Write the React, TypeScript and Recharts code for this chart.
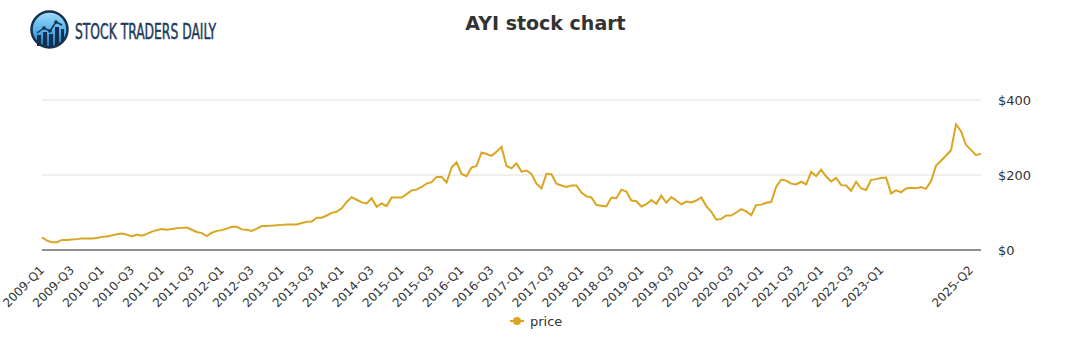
import React from "react";
import { LineChart, Line, XAxis, YAxis, CartesianGrid } from "recharts";

const prices: number[] = [
  34, 25, 21, 21, 27, 27, 28, 29, 31, 31,
  31, 32, 35, 36, 39, 42, 44, 41, 36, 41,
  38, 43, 49, 53, 56, 54, 56, 58, 59, 60,
  54, 48, 45, 37, 46, 51, 53, 57, 62, 62,
  55, 54, 51, 57, 64, 64, 65, 66, 67, 68,
  68, 68, 72, 75, 76, 86, 86, 92, 99, 102,
  111, 128, 141, 134, 127, 124, 138, 115, 124, 117,
  140, 140, 140, 149, 159, 161, 168, 177, 181, 195,
  195, 180, 220, 234, 203, 197, 220, 224, 260, 256,
  251, 262, 275, 224, 218, 231, 209, 212, 203, 177,
  164, 203, 202, 177, 172, 168, 172, 172, 153, 143,
  140, 120, 118, 116, 140, 138, 161, 156, 132, 130,
  116, 122, 133, 123, 145, 126, 141, 132, 122, 129,
  127, 132, 140, 117, 102, 81, 83, 92, 92, 100,
  109, 103, 93, 120, 121, 126, 128, 169, 188, 185,
  177, 175, 182, 175, 208, 197, 214, 196, 183, 192,
  173, 172, 158, 182, 164, 160, 187, 189, 192, 193,
  151, 159, 154, 164, 166, 165, 168, 163, 184, 225,
  238, 252, 266, 335, 317, 280, 267, 253, 257,
];

const tickLabels: string[] = [
  "2009-Q1", "2009-Q3", "2010-Q1", "2010-Q3", "2011-Q1", "2011-Q3",
  "2012-Q1", "2012-Q3", "2013-Q1", "2013-Q3", "2014-Q1", "2014-Q3",
  "2015-Q1", "2015-Q3", "2016-Q1", "2016-Q3", "2017-Q1", "2017-Q3",
  "2018-Q1", "2018-Q3", "2019-Q1", "2019-Q3", "2020-Q1", "2020-Q3",
  "2021-Q1", "2021-Q3", "2022-Q1", "2022-Q3", "2023-Q1", "2025-Q2",
];

const tickIndices: number[] = [
  0, 6, 12, 18, 24, 30, 36, 42, 48, 54, 60, 66, 72, 78, 84, 90, 96, 102,
  108, 114, 120, 126, 132, 138, 144, 150, 156, 162, 168, 186,
];

const yTicks: number[] = [0, 200, 400];

const LINE_COLOR = "#DAA520";
const FONT = "'DejaVu Sans', sans-serif";

const data = prices.map((price, i) => ({ i, price }));

const XTick = (props: any) => {
  const { x, y, payload } = props;
  const k = tickIndices.indexOf(payload.value);
  const label = k >= 0 ? tickLabels[k] : "";
  return (
    <text
      x={x}
      y={y}
      dy="0.35em"
      transform={`rotate(-45 ${x} ${y})`}
      textAnchor="end"
      fontSize={12}
      fontFamily={FONT}
      fill="#333"
    >
      {label}
    </text>
  );
};

export default function App() {
  return (
    <div
      style={{
        position: "absolute",
        left: 0,
        top: 0,
        width: 1091,
        height: 350,
        background: "#fff",
        fontFamily: FONT,
      }}
    >
      <LineChart
        width={1091}
        height={350}
        data={data}
        margin={{ top: 100, right: 0, bottom: 0, left: 42 }}
      >
        <CartesianGrid vertical={false} stroke="#e0e0e0" />
        <XAxis
          dataKey="i"
          type="number"
          domain={[0, prices.length - 1]}
          ticks={tickIndices}
          interval={0}
          tick={<XTick />}
          tickLine={false}
          tickSize={6}
          tickMargin={12}
          height={100}
          axisLine={{ stroke: "#333", strokeWidth: 1 }}
        />
        <YAxis
          orientation="right"
          domain={[0, 400]}
          ticks={yTicks}
          tickFormatter={(v: number) => `$${v}`}
          axisLine={false}
          tickLine={false}
          tickSize={0}
          tickMargin={17}
          width={110}
          tick={{ fontSize: 13, fill: "#333", fontFamily: FONT, textAnchor: "start" }}
        />
        <Line
          type="linear"
          dataKey="price"
          stroke={LINE_COLOR}
          strokeWidth={2}
          dot={false}
          activeDot={false}
          isAnimationActive={false}
        />
      </LineChart>
      <svg
        width={1091}
        height={350}
        style={{ position: "absolute", left: 0, top: 0, pointerEvents: "none" }}
      >
        <defs>
          <linearGradient id="logoG" x1="0" y1="0" x2="0" y2="1">
            <stop offset="0%" stopColor="#a6ddfb" />
            <stop offset="55%" stopColor="#4fb0ec" />
            <stop offset="100%" stopColor="#1f74b8" />
          </linearGradient>
        </defs>
        <circle cx={49.5} cy={29.5} r={18} fill="url(#logoG)" stroke="#15314f" strokeWidth={2.5} />
        <rect x={37} y={35} width={4} height={11} fill="#14304d" />
        <rect x={43} y={32} width={4} height={15} fill="#14304d" />
        <rect x={49} y={34} width={4} height={13} fill="#14304d" />
        <rect x={55} y={27} width={4} height={18} fill="#14304d" />
        <rect x={61} y={29} width={3} height={13} fill="#14304d" />
        <polyline
          points="37,33 44,28 50,31 56,22 62,25"
          fill="none"
          stroke="#14304d"
          strokeWidth={1.5}
        />
        <circle cx={44} cy={28} r={1.8} fill="#14304d" />
        <circle cx={50} cy={31} r={1.8} fill="#14304d" />
        <circle cx={56} cy={22} r={1.8} fill="#14304d" />
        <text
          x={75}
          y={38.5}
          fontSize={21}
          fontFamily="'DejaVu Sans Condensed', 'DejaVu Sans', sans-serif"
          fill="#1d3b5c"
          stroke="#1d3b5c"
          strokeWidth={0.5}
          textLength={141}
          lengthAdjust="spacingAndGlyphs"
        >
          STOCK TRADERS DAILY
        </text>
        <text
          x={545.5}
          y={30}
          textAnchor="middle"
          fontSize={19}
          fontWeight="bold"
          fontFamily={FONT}
          fill="#333"
        >
          AYI stock chart
        </text>
        <line x1={510} y1={321} x2={524} y2={321} stroke={LINE_COLOR} strokeWidth={2} />
        <circle cx={517} cy={321} r={4} fill={LINE_COLOR} />
        <text x={530} y={321} dy="0.35em" fontSize={13} fontFamily={FONT} fill="#333">
          price
        </text>
      </svg>
    </div>
  );
}
